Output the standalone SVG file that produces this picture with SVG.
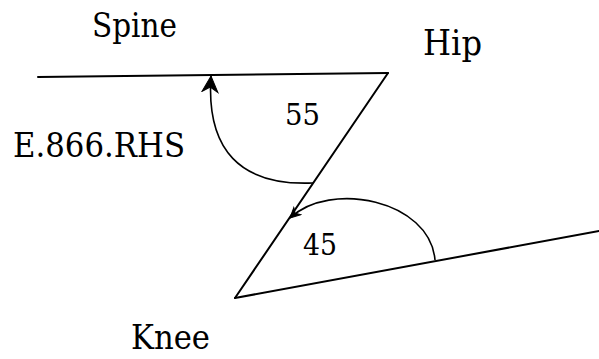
<svg xmlns="http://www.w3.org/2000/svg" width="599" height="359" viewBox="0 0 599 359">
<style>
text{font-family:'DejaVu Serif','Liberation Serif','Times New Roman',serif;fill:#000;}
.seg{stroke:#000;stroke-width:2;fill:none;stroke-linecap:round;}
.arc{stroke:#000;stroke-width:1.6;fill:none;}
</style>
<defs>
<marker id="ah" viewBox="0 0 12 12" refX="11" refY="6" markerWidth="12" markerHeight="12" markerUnits="userSpaceOnUse" orient="auto">
<path d="M1,1 L11,6 L1,11 L4,6 Z" fill="#000" stroke="#000" stroke-width="1"/>
</marker>
<marker id="ah2" viewBox="0 0 18 18" refX="17" refY="9" markerWidth="18" markerHeight="18" markerUnits="userSpaceOnUse" orient="auto">
<path d="M1,1 L17,9 L1,17 L6,9 Z" fill="#000" stroke="#000" stroke-width="1"/>
</marker>
</defs>
<rect width="599" height="359" fill="#fff"/>
<g id="connectors">
<line class="seg" x1="38" y1="77" x2="388" y2="73" stroke-width="1.8"/>
<line class="seg" x1="388" y1="73" x2="235" y2="298"/>
<line class="seg" x1="235" y1="298" x2="599" y2="231" stroke-width="2.4"/>
<path class="arc" d="M313,183 C240,186 206,150 211,76" marker-end="url(#ah2)"/>
<path class="arc" d="M435,260 C430,200 330,180 290,218" marker-end="url(#ah)"/>
</g>
<g id="spine"><text x="92" y="37" font-size="34" textLength="85" lengthAdjust="spacingAndGlyphs">Spine</text></g>
<g id="hip"><text x="423" y="55" font-size="36" textLength="59" lengthAdjust="spacingAndGlyphs">Hip</text></g>
<g id="knee"><text x="131" y="349" font-size="34" textLength="79" lengthAdjust="spacingAndGlyphs">Knee</text></g>
<g id="label"><text x="13" y="157" font-size="33" textLength="172" lengthAdjust="spacingAndGlyphs">E.866.RHS</text></g>
<g id="angle55"><text x="285" y="125" font-size="29" textLength="35" lengthAdjust="spacingAndGlyphs">55</text></g>
<g id="angle45"><text x="303" y="255" font-size="29" textLength="34" lengthAdjust="spacingAndGlyphs">45</text></g>
</svg>
